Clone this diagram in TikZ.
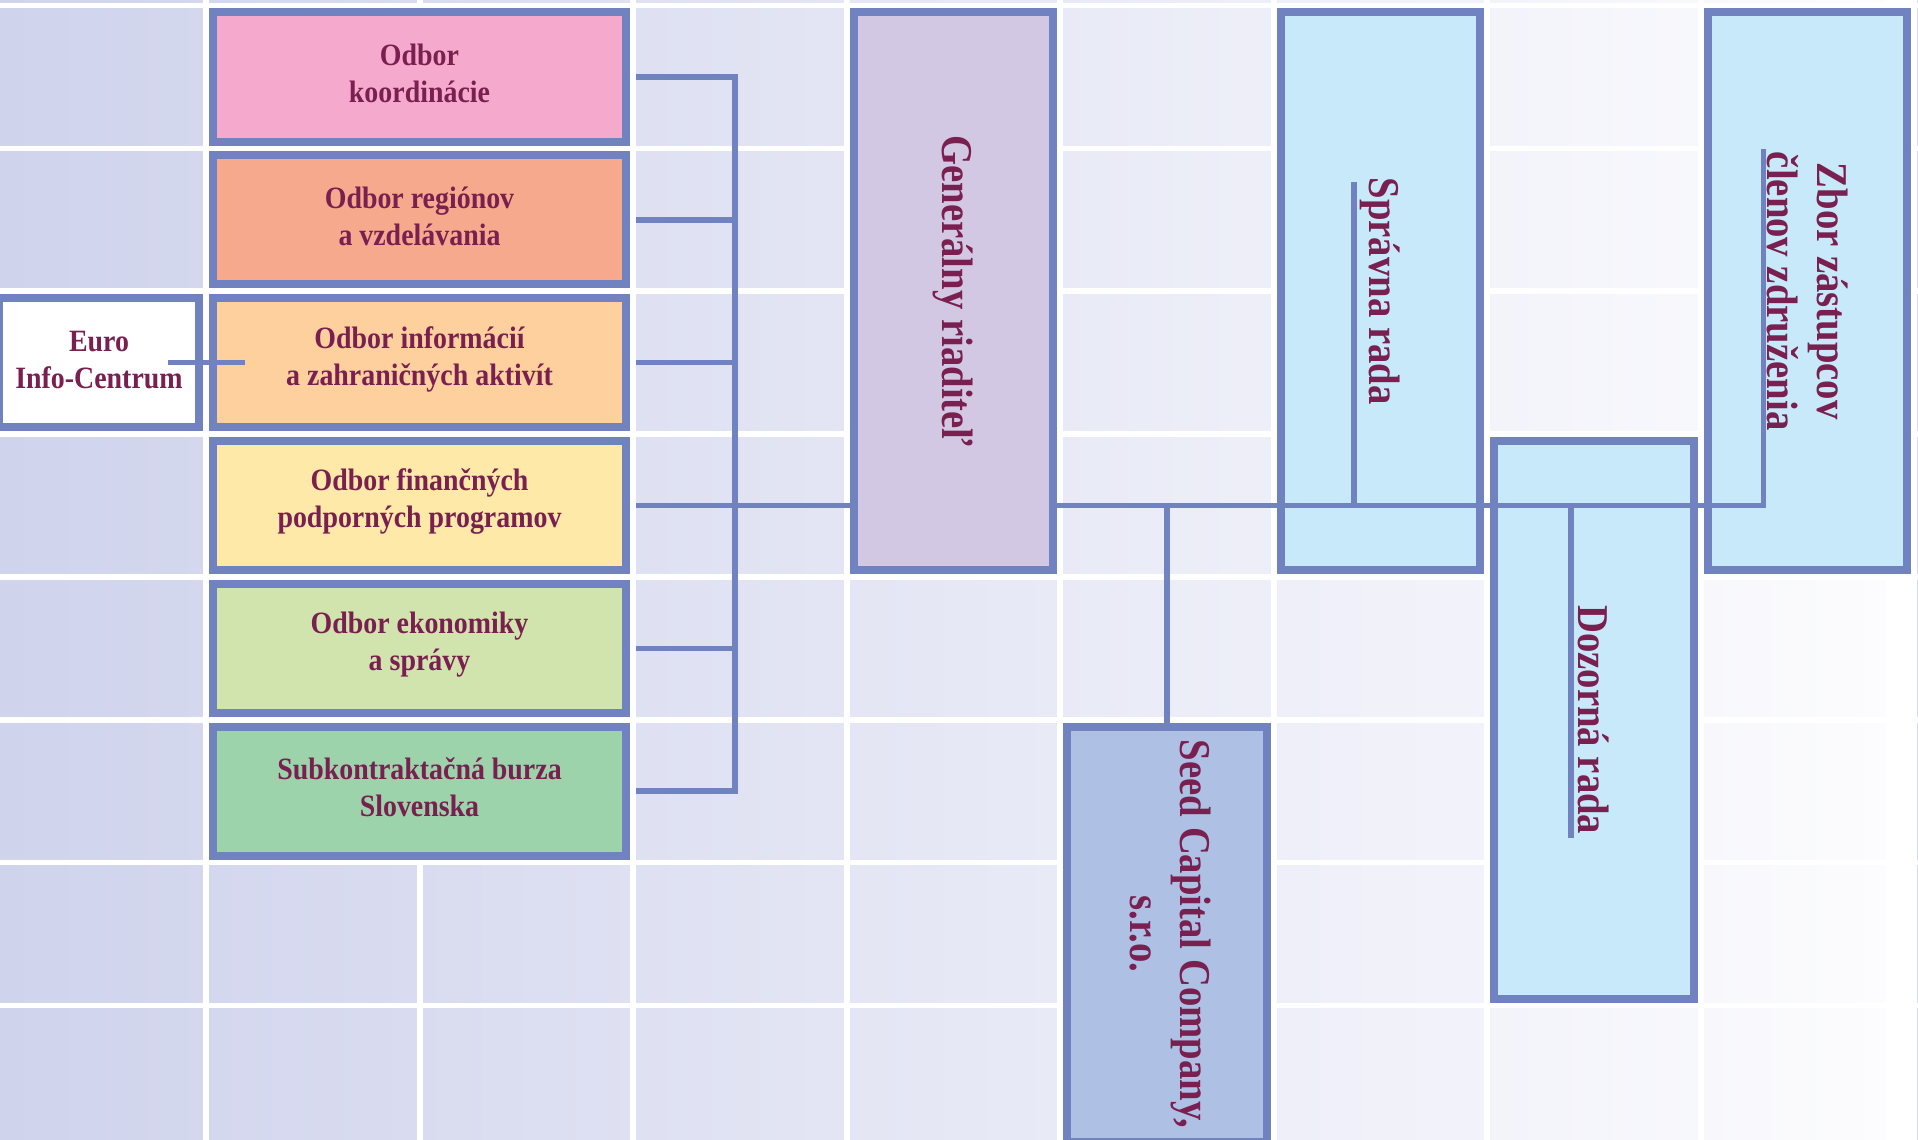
\documentclass[tikz,border=0pt]{standalone}
\usepackage{fontspec}
\setmainfont{Liberation Serif}
\newfontfamily\lboxfont[FakeStretch=0.9]{Liberation Serif}
\newfontfamily\vboxfont[FakeStretch=0.88]{Liberation Serif}
\definecolor{bord}{RGB}{112,130,192}
\definecolor{txt}{RGB}{122,32,80}
\definecolor{cpink}{RGB}{245,170,205}
\definecolor{csalmon}{RGB}{246,169,141}
\definecolor{cpeach}{RGB}{254,208,158}
\definecolor{cyellow}{RGB}{254,233,168}
\definecolor{clgreen}{RGB}{209,228,174}
\definecolor{cgreen}{RGB}{156,211,171}
\definecolor{clav}{RGB}{211,200,227}
\definecolor{cblue}{RGB}{199,233,249}
\definecolor{cseed}{RGB}{174,192,228}
\definecolor{gridL}{RGB}{207,211,236}
\definecolor{gridR}{RGB}{252,252,254}
\tikzset{
  box/.style={draw=bord, line width=4pt, inner sep=0pt, outer sep=0pt},
  wide/.style={box, minimum width=206.5pt, minimum height=64.63pt},
  ltext/.style={align=center, text=txt, inner sep=0pt,
     font=\lboxfont\bfseries\fontsize{15.5}{18.5}\selectfont},
  tall/.style={box, fill=cblue, minimum width=99.75pt, minimum height=278.92pt},
  vtext/.style={rotate=-90, align=center, text=txt, inner sep=0pt,
     font=\vboxfont\bfseries\fontsize{22}{25}\selectfont},
  conn/.style={draw=bord, line width=2.75pt},
}
\begin{document}
\begin{tikzpicture}[x=0.5pt, y=-0.5pt]
\useasboundingbox (0,0) rectangle (1918,1140);
\clip (0,0) rectangle (1918,1140);
\fill[white] (0,0) rectangle (1918,1140);
\shade[left color=gridL, right color=gridR] (0,0) rectangle (1885,1140);
\fill[gridL!85!white] (1916,0) rectangle (1918,1140);
\foreach \i in {0,...,8} \fill[white] ({206+213.5*\i-3},0) rectangle ({206+213.5*\i+3},1140);
\foreach \j in {0,...,8} \fill[white] (0,{5.5+142.86*\j-2.8}) rectangle (1918,{5.5+142.86*\j+2.8});

% left column
\node[wide, fill=cpink] (b1) at (419.5,76.93) {};
\node[wide, fill=csalmon] (b2) at (419.5,219.79) {};
\node[wide, fill=cpeach] (b3) at (419.5,362.65) {};
\node[wide, fill=cyellow] (b4) at (419.5,505.51) {};
\node[wide, fill=clgreen] (b5) at (419.5,648.37) {};
\node[wide, fill=cgreen] (b6) at (419.5,791.23) {};
\node[wide, fill=white, minimum width=100pt] (euro) at (99,362.65) {};

% tall boxes
\node[tall, fill=clav] (gen) at (953.25,291.22) {};
\node[tall] (spr) at (1380.25,291.22) {};
\node[tall] (zbor) at (1807.25,291.22) {};
\node[tall] (doz) at (1593.75,719.8) {};
\node[tall, fill=cseed, minimum height=207.49pt] (seed) at (1166.75,934.09) {};

% connectors
\coordinate (bus) at (735,0);
\coordinate (zbortop) at (1763.5,148.5);
\coordinate (sprtop) at (1354,182);
\coordinate (dozbot) at (1571,838);
\draw[conn] ([xshift=5pt]b1.east) -- (b1.east -| bus) -- (b6.east -| bus) -- ([xshift=5pt]b6.east);
\foreach \nm in {b2,b3,b5} \draw[conn] ([xshift=5pt]\nm.east) -- (\nm.east -| bus);
\draw[conn] ([xshift=5pt]b4.east) -- (b4.east -| gen.west);
\draw[conn] (b4.east -| gen.east) -- (b4.east -| zbortop) -- (zbortop);
\draw[conn] (sprtop) -- (sprtop |- b4.east);
\draw[conn] (dozbot |- b4.east) -- (dozbot);
\draw[conn] (seed.north |- b4.east) -- (seed.north);
\draw[conn] ([xshift=-15.35pt]euro.east) -- ([xshift=16pt]b3.west);

% left texts
\node[ltext] (t1) at ([yshift=1.8pt]b1.center) {Odbor\\koordinácie};
\node[ltext] (t2) at ([yshift=1.8pt]b2.center) {Odbor regiónov\\a vzdelávania};
\node[ltext] (t3) at ([yshift=1.8pt]b3.center) {Odbor informácií\\a zahraničných aktivít};
\node[ltext] (t4) at ([yshift=1.8pt]b4.center) {Odbor finančných\\podporných programov};
\node[ltext] (t5) at ([yshift=1.8pt]b5.center) {Odbor ekonomiky\\a správy};
\node[ltext] (t6) at ([yshift=1.8pt]b6.center) {Subkontraktačná burza\\Slovenska};
\node[ltext] (teuro) at ([yshift=1.2pt]euro.center) {Euro\\Info-Centrum};

% vertical texts
\node[vtext] (gen-t) at (gen) {Generálny riaditeľ};
\node[vtext] (spr-t) at (spr) {Správna rada};
\node[vtext] (zbor-t) at (zbor) {Zbor zástupcov\\členov združenia};
\node[vtext] (doz-t) at (doz) {Dozorná rada};
\node[vtext] (seed-t) at ([xshift=2pt]seed.center) {Seed Capital Company,\\s.r.o.};
\end{tikzpicture}
\end{document}
